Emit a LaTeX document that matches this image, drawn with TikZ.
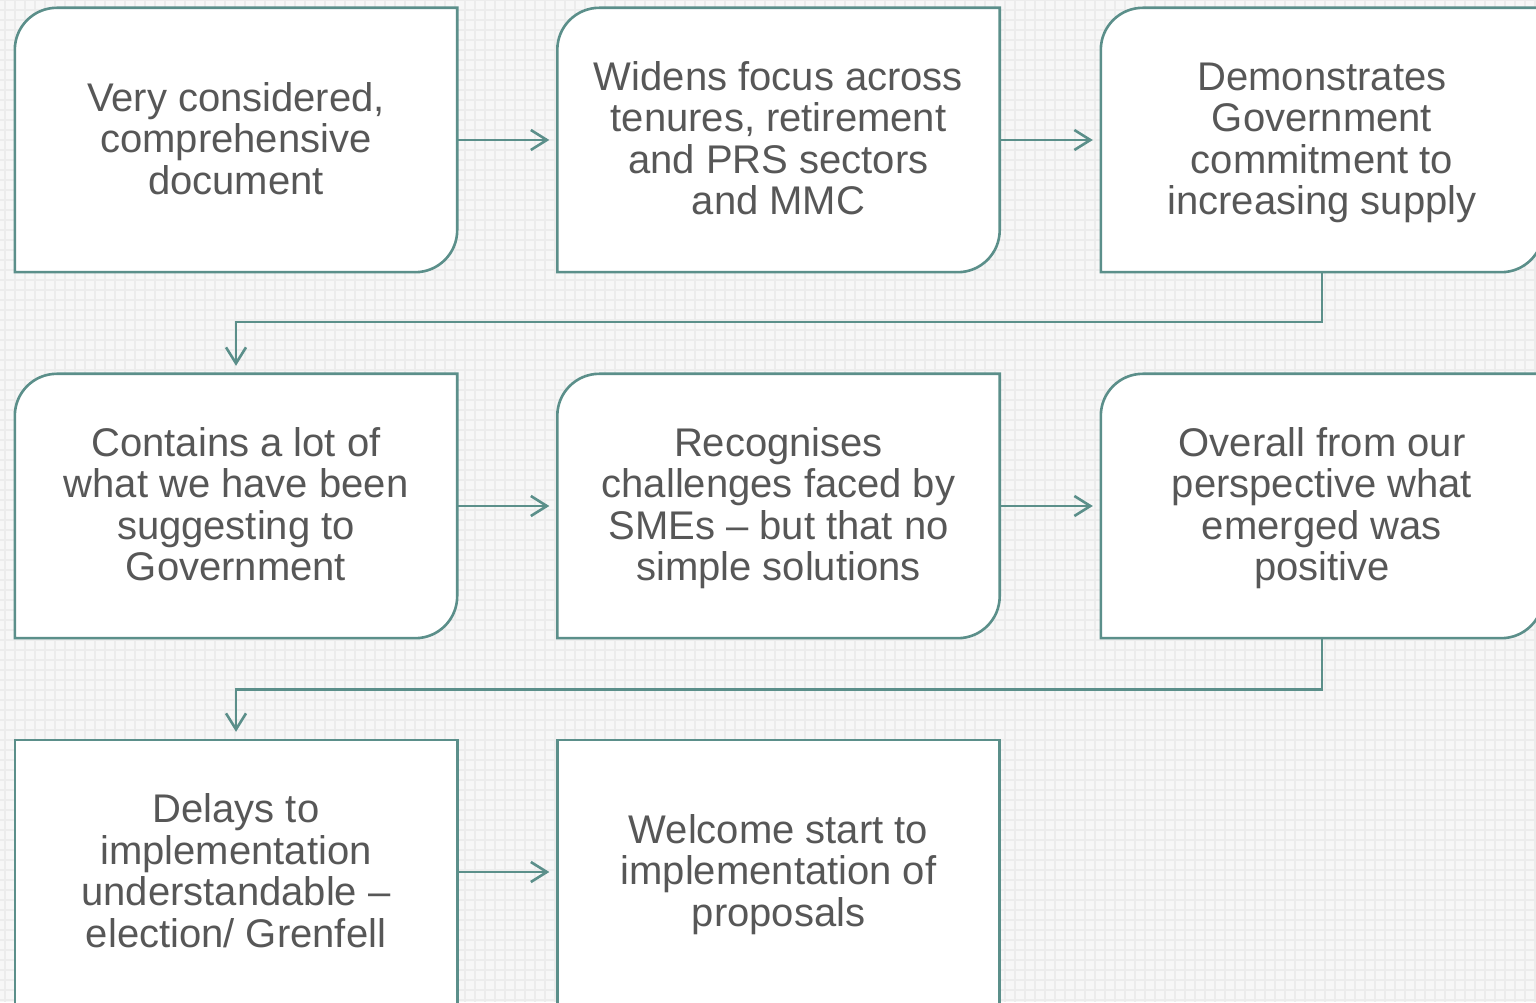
\documentclass[tikz,border=0pt]{standalone}
\usepackage{fontspec}
\setmainfont{Liberation Sans}
\usetikzlibrary{arrows.meta,calc}
\definecolor{teal1}{HTML}{5B8F8A}
\definecolor{txt}{HTML}{575757}
\definecolor{bgc}{HTML}{F7F7F7}
\definecolor{gridc}{HTML}{ECECEC}
\pgfdeclarelayer{bg}
\pgfdeclarelayer{mid}
\pgfsetlayers{bg,mid,main}
\newcommand{\lt}{\rule{0pt}{33.8pt}}
\newcommand{\lf}{\vphantom{Hg}}
\tikzset{
  stagebox/.style={minimum width=442pt, minimum height=264pt, inner sep=0pt,
    align=center, text=txt, font=\fontsize{40}{41.5}\selectfont},
  outline/.style={draw=teal1, line width=2.6pt, fill=white},
  flow/.style={draw=teal1, line width=2.6pt, -{Straight Barb[length=16pt,width=20pt,line width=2.6pt]}},
  gridline/.style={draw=gridc, line width=1.6pt}
}
\newcommand{\stageoutline}[1]{%
  \path[outline] (#1.south west) -- ([yshift=-42pt]#1.north west)
    arc[start angle=180,end angle=90,radius=42pt] -- (#1.north east)
    -- ([yshift=42pt]#1.south east)
    arc[start angle=0,end angle=-90,radius=42pt] -- cycle;}
\newcommand{\squareoutline}[1]{%
  \path[outline] (#1.south west) rectangle (#1.north east);}
\begin{document}
\begin{tikzpicture}[x=1pt,y=1pt]
\useasboundingbox (0,0) rectangle (1536,1002);
\clip (0,0) rectangle (1536,1002);
\begin{pgfonlayer}{bg}
  \fill[bgc] (0,0) rectangle (1536,1002);
  \foreach \x in {5,15,...,1535} \draw[gridline] (\x,0) -- (\x,1002);
  \foreach \y in {2,12,...,1002} \draw[gridline] (0,\y) -- (1536,\y);
\end{pgfonlayer}

\node[stagebox] (b1) at (236,862) {\lt Very considered,\\comprehensive\\document\lf};
\node[stagebox] (b2) at (778.5,862) {\lt Widens focus across\\tenures, retirement\\and PRS sectors\\and MMC\lf};
\node[stagebox] (b3) at (1322,862) {\lt Demonstrates\\Government\\commitment to\\increasing supply\lf};
\node[stagebox] (b4) at (236,496) {\lt Contains a lot of\\what we have been\\suggesting to\\Government\lf};
\node[stagebox] (b5) at (778.5,496) {\lt Recognises\\challenges faced by\\SMEs – but that no\\simple solutions\lf};
\node[stagebox] (b6) at (1322,496) {\lt Overall from our\\perspective what\\emerged was\\positive\lf};
\node[stagebox] (b7) at (236,130) {\lt Delays to\\implementation\\understandable –\\election/ Grenfell\lf};
\node[stagebox] (b8) at (778.5,130) {\lt Welcome start to\\implementation of\\proposals\lf};

\begin{pgfonlayer}{mid}
  \stageoutline{b1}
  \stageoutline{b2}
  \stageoutline{b3}
  \stageoutline{b4}
  \stageoutline{b5}
  \stageoutline{b6}
  \squareoutline{b7}
  \squareoutline{b8}
\end{pgfonlayer}

\draw[flow] (b1.east) -- ([xshift=-8pt]b2.west);
\draw[flow] (b2.east) -- ([xshift=-8pt]b3.west);
\draw[flow] (b4.east) -- ([xshift=-8pt]b5.west);
\draw[flow] (b5.east) -- ([xshift=-8pt]b6.west);
\draw[flow] (b7.east) -- ([xshift=-8pt]b8.west);
\draw[flow] (b3.south) -- ++(0,-50) -| ([yshift=8pt]b4.north);
\draw[flow] (b6.south) -- ++(0,-51) -| ([yshift=8pt]b7.north);
\end{tikzpicture}
\end{document}
